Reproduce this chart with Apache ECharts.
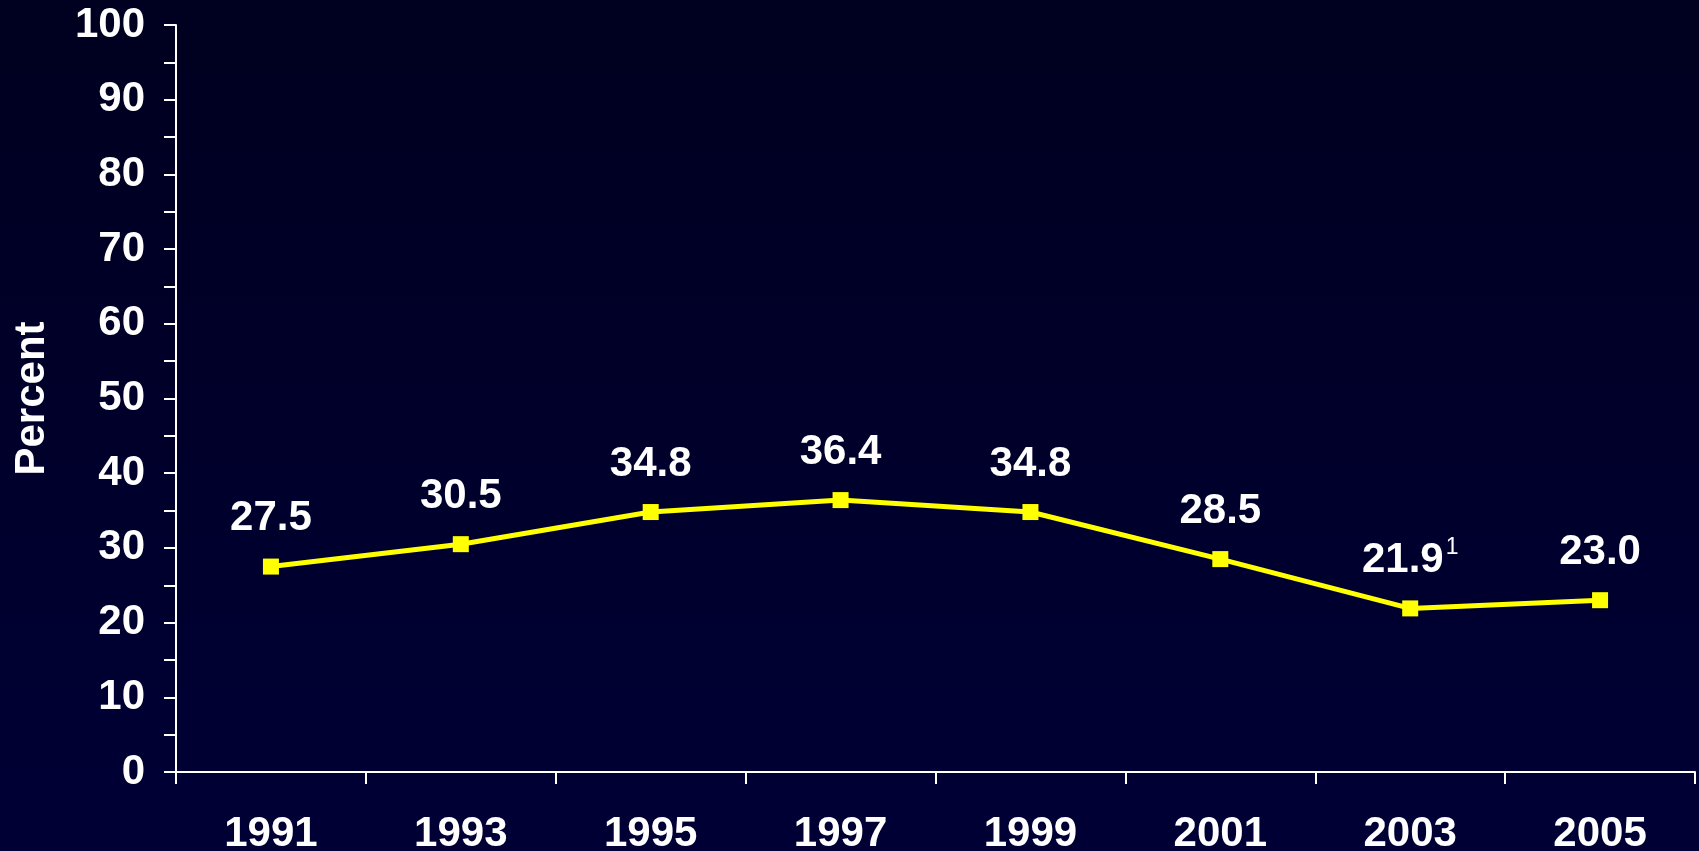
<!DOCTYPE html>
<html>
<head>
<meta charset="utf-8">
<script src="https://cdn.jsdelivr.net/npm/echarts@6/dist/echarts.min.js"></script>
<style>
html,body{margin:0;padding:0;width:1699px;height:851px;overflow:hidden;background:#000022;}
#c{width:1699px;height:851px;}
</style>
</head>
<body>
<div id="c"></div>
<script>
const categories = ['1991','1993','1995','1997','1999','2001','2003','2005'];
const values = [27.5, 30.5, 34.8, 36.4, 34.8, 28.5, 21.9, 23.0];
const footnotes = ['', '', '', '', '', '', '1', ''];
const yAxisName = 'Percent';

const FONT = '"Liberation Sans", Arial, Helvetica, sans-serif';
const chart = echarts.init(document.getElementById('c'), null, {renderer: 'canvas'});
chart.setOption({
  backgroundColor: new echarts.graphic.LinearGradient(0, 0, 0, 1, [
    {offset: 0, color: '#000020'},
    {offset: 1, color: '#000036'}
  ]),
  animation: false,
  grid: {left: 176, top: 25, right: 4, bottom: 79, containLabel: false, outerBoundsMode: 'none'},
  xAxis: {
    type: 'category',
    data: categories,
    boundaryGap: true,
    axisLine: {lineStyle: {color: '#ffffff', width: 2}},
    axisTick: {show: true, length: 12, alignWithLabel: false, lineStyle: {color: '#ffffff', width: 2}},
    axisLabel: {color: '#ffffff', fontSize: 42, fontWeight: 'bold', fontFamily: FONT, margin: 41, interval: 0}
  },
  yAxis: {
    type: 'value',
    min: 0, max: 100, interval: 10,
    name: yAxisName,
    nameLocation: 'middle',
    nameGap: 123,
    nameRotate: 90,
    nameTextStyle: {color: '#ffffff', fontSize: 42, fontWeight: 'bold', fontFamily: FONT},
    axisLine: {show: true, lineStyle: {color: '#ffffff', width: 2}},
    axisTick: {show: true, length: 12, lineStyle: {color: '#ffffff', width: 2}},
    minorTick: {show: true, splitNumber: 2, length: 12, lineStyle: {color: '#ffffff', width: 2}},
    splitLine: {show: false},
    axisLabel: {color: '#ffffff', fontSize: 42, fontWeight: 'bold', fontFamily: FONT, margin: 31}
  },
  series: [{
    type: 'line',
    data: values,
    symbol: 'rect',
    symbolSize: 16,
    lineStyle: {color: '#ffff00', width: 5},
    itemStyle: {color: '#ffff00'},
    label: {
      show: true,
      position: 'top',
      distance: 16,
      formatter: function (p) {
        const fn = footnotes[p.dataIndex];
        const v = p.value.toFixed(1);
        return fn ? '{a|' + v + '}{sup|' + fn + '}' : '{a|' + v + '}';
      },
      rich: {
        a: {color: '#ffffff', fontSize: 42, fontWeight: 'bold', fontFamily: FONT, lineHeight: 48},
        sup: {color: '#ffffff', fontSize: 23, fontFamily: FONT, verticalAlign: 'top', lineHeight: 23, padding: [0, 0, 0, 2]}
      }
    }
  }]
});
</script>
</body>
</html>
